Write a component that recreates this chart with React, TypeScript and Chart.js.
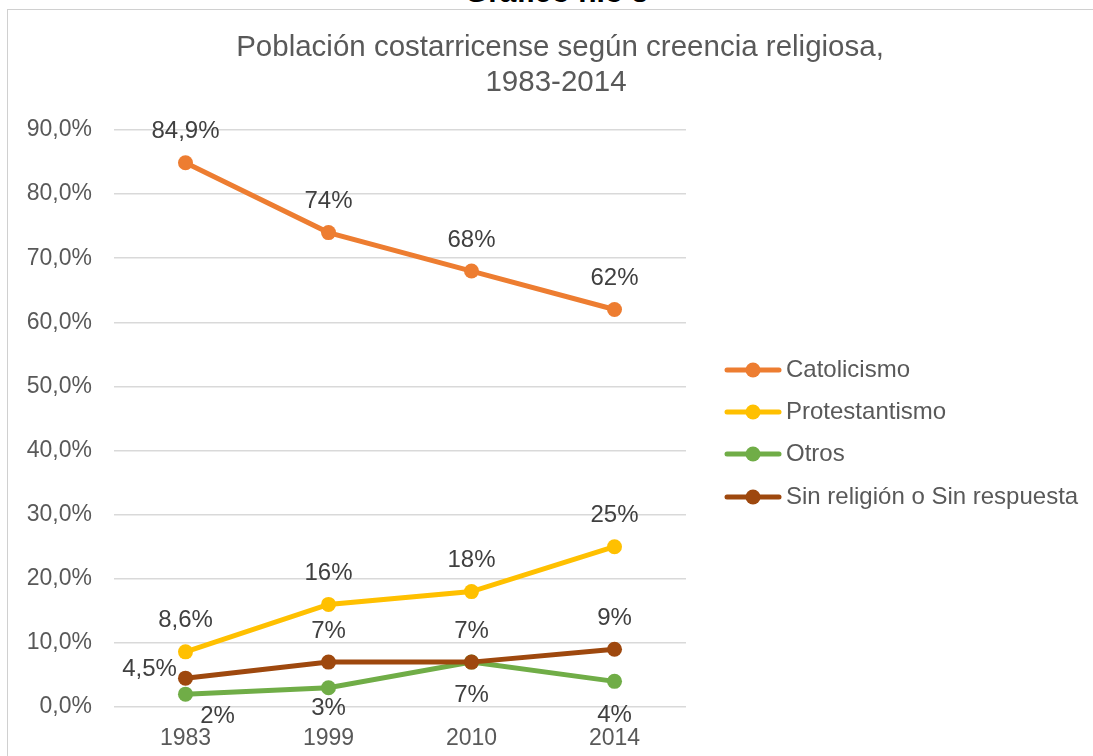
import React, { useEffect, useRef } from "react";
import { Chart, registerables } from "chart.js";

Chart.register(...registerables);

const categories = ["1983", "1999", "2010", "2014"];
const catolicismo = [84.9, 74, 68, 62];
const protestantismo = [8.6, 16, 18, 25];
const otros = [2, 3, 7, 4];
const sinReligion = [4.5, 7, 7, 9];
const seriesNames = ["Catolicismo", "Protestantismo", "Otros", "Sin religión o Sin respuesta"];
const seriesColors = ["#ED7D31", "#FFC000", "#70AD47", "#9E480E"];
const yMax = 90;
const yStep = 10;
const titleLines = ["Población costarricense según creencia religiosa,", "1983-2014"];
const headerText = "Gráfico n.o 3";

// label placement (layout only): [dx, dy] from each point
const labelOffsets = [
  [[0, -31], [0, -31], [0, -31], [0, -31]],
  [[0, -31], [0, -31], [0, -31], [0, -31]],
  [[32, 22], [0, 21], [0, 33], [0, 34]],
  [[-36, -9], [0, -31], [0, -31], [0, -31]],
];

const FONT = "'Liberation Sans', Arial, sans-serif";
const TEXT = "#595959";
const LABEL = "#404040";

const fmtPct = (v: number) =>
  Number.isInteger(v) ? `${v}%` : `${v.toFixed(1).replace(".", ",")}%`;

const overlayPlugin = {
  id: "overlay",
  afterDatasetsDraw(chart: any) {
    const ctx = chart.ctx;
    ctx.save();
    ctx.font = `24px ${FONT}`;
    ctx.fillStyle = LABEL;
    ctx.textAlign = "center";
    ctx.textBaseline = "middle";
    chart.data.datasets.forEach((ds: any, i: number) => {
      const meta = chart.getDatasetMeta(i);
      meta.data.forEach((pt: any, j: number) => {
        const [dx, dy] = labelOffsets[i][j];
        ctx.fillText(fmtPct(ds.data[j]), pt.x + dx, pt.y + dy);
      });
    });
    ctx.restore();
  },
  afterDraw(chart: any) {
    const ctx = chart.ctx;
    ctx.save();
    // title
    ctx.font = `29.5px ${FONT}`;
    ctx.fillStyle = TEXT;
    ctx.textAlign = "center";
    ctx.textBaseline = "middle";
    ctx.fillText(titleLines[0], 560, 48);
    ctx.fillText(titleLines[1], 556, 83);
    // legend
    const ys = [370, 412, 454, 497];
    seriesNames.forEach((name, i) => {
      const y = ys[i];
      ctx.strokeStyle = seriesColors[i];
      ctx.lineWidth = 5;
      ctx.lineCap = "round";
      ctx.beginPath();
      ctx.moveTo(727, y);
      ctx.lineTo(779, y);
      ctx.stroke();
      ctx.fillStyle = seriesColors[i];
      ctx.beginPath();
      ctx.arc(753, y, 7.5, 0, Math.PI * 2);
      ctx.fill();
      ctx.fillStyle = TEXT;
      ctx.font = `24px ${FONT}`;
      ctx.textAlign = "left";
      ctx.fillText(name, 786, y);
    });
    ctx.restore();
  },
};

export default function App() {
  const ref = useRef<HTMLCanvasElement | null>(null);
  useEffect(() => {
    if (!ref.current) return;
    const seriesData = [catolicismo, protestantismo, otros, sinReligion];
    const chart = new Chart(ref.current, {
      type: "line",
      data: {
        labels: categories,
        datasets: seriesData.map((d, i) => ({
          label: seriesNames[i],
          data: d,
          borderColor: seriesColors[i],
          backgroundColor: seriesColors[i],
          pointBackgroundColor: seriesColors[i],
          pointBorderWidth: 0,
          pointRadius: 7.5,
          borderWidth: 5,
          tension: 0,
          order: 4 - i,
        })),
      },
      options: {
        responsive: false,
        animation: false,
        devicePixelRatio: 1,
        layout: { padding: { top: 130, right: 407, left: 0, bottom: 0 } },
        plugins: {
          legend: { display: false },
          title: { display: false },
          tooltip: { enabled: false },
        },
        scales: {
          x: {
            type: "category",
            offset: true,
            grid: { display: false },
            border: { display: false },
            ticks: { color: TEXT, font: { family: FONT, size: 23 }, padding: 10 },
            afterFit: (s: any) => {
              s.height = 49;
            },
          },
          y: {
            min: 0,
            max: yMax,
            ticks: {
              stepSize: yStep,
              color: TEXT,
              font: { family: FONT, size: 23 },
              padding: 22,
              callback: (v: any) => `${Number(v).toFixed(1).replace(".", ",")}%`,
            },
            grid: { color: "#D9D9D9", lineWidth: 1.5, drawTicks: false, tickLength: 0 },
            border: { display: false },
            afterFit: (s: any) => {
              s.width = 114;
            },
          },
        },
      },
      plugins: [overlayPlugin],
    });
    return () => chart.destroy();
  }, []);

  return (
    <div
      style={{
        position: "absolute",
        left: 0,
        top: 0,
        width: 1093,
        height: 756,
        overflow: "hidden",
        background: "#fff",
        fontFamily: FONT,
      }}
    >
      <div
        style={{
          position: "absolute",
          left: 10,
          top: -23,
          width: 1093,
          textAlign: "center",
          fontWeight: "bold",
          fontSize: 30,
          lineHeight: "30px",
          color: "#000",
        }}
      >
        {headerText}
      </div>
      <div
        style={{
          position: "absolute",
          left: 7,
          top: 9,
          width: 1100,
          height: 800,
          borderLeft: "1px solid #D0D0D0",
          borderTop: "1px solid #D0D0D0",
        }}
      />
      <canvas
        ref={ref}
        width={1093}
        height={756}
        style={{ position: "absolute", left: 0, top: 0, width: 1093, height: 756 }}
      />
    </div>
  );
}
